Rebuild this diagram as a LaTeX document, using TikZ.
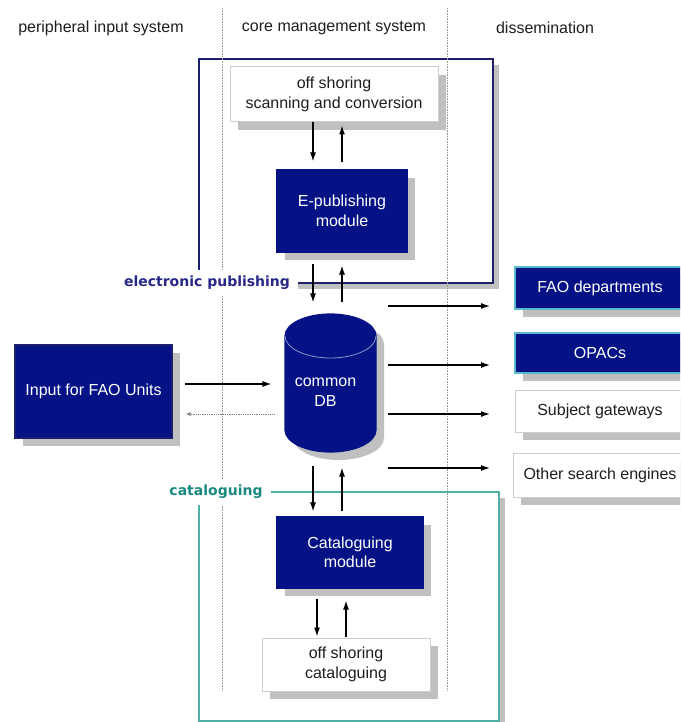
\documentclass[tikz,border=0pt]{standalone}
\usepackage{fontspec}
\setmainfont{Liberation Sans}
\newfontfamily\grpfont{DejaVu Sans}
\usetikzlibrary{arrows.meta,shadows}

\definecolor{navy}{RGB}{4,18,134}
\definecolor{navyline}{RGB}{30,30,110}
\definecolor{grpblue}{RGB}{40,40,135}
\definecolor{grpteal}{RGB}{24,138,130}
\definecolor{tealline}{RGB}{80,176,168}
\definecolor{shadowgray}{RGB}{192,192,192}
\definecolor{boxedge}{RGB}{205,205,205}
\definecolor{cyanedge}{RGB}{90,185,205}
\definecolor{txt}{RGB}{30,30,30}

\tikzset{
	every node/.style={font=\fontsize{16}{19.5}\selectfont, text=txt, inner sep=0pt, align=center},
	bigshadow/.style={drop shadow={shadow xshift=8pt, shadow yshift=-8pt, fill=shadowgray, opacity=1}},
	smallshadow/.style={drop shadow={shadow xshift=6pt, shadow yshift=-6pt, fill=shadowgray, opacity=1}},
	darkbox/.style={fill=navy, draw=navy, text=white, bigshadow},
	rightbox/.style={fill=navy, draw=cyanedge, line width=1.2pt, text=white, bigshadow},
	lightbox/.style={fill=white, draw=boxedge, line width=1pt, bigshadow},
	grplabel/.style={font=\grpfont\bfseries\fontsize{14}{16}\selectfont, fill=white, inner xsep=8pt, inner ysep=6pt},
	sepline/.style={densely dotted, gray!80, line width=0.6pt},
}

\begin{document}
\begin{tikzpicture}[x=1pt, y=-1pt, >={Latex[length=9pt, width=6pt]}, line width=1.2pt]
		\useasboundingbox (0,0) rectangle (680,722);
		\clip (0,0) rectangle (680,722);
		
		\draw[navyline, line width=1.4pt, fill=white, smallshadow] (199,59) rectangle (493,283);
		\draw[tealline, line width=1.4pt, fill=white, smallshadow] (199,492) rectangle (499,721);
		
		\draw[sepline] (222,8) -- (222,690);
		\draw[sepline] (447,8) -- (447,690);
		
		\node (hperiph) at (101,28) {peripheral input system};
		\node (hcore) at (334,28) {core management system};
		\node (hdiss) at (545,28) {dissemination};
		
		\node[grplabel, text=grpblue] (epubgrp) at (207,283) {electronic publishing};
		\node[grplabel, text=grpteal] (catgrp) at (216,492) {cataloguing};
		
		\node[lightbox, minimum width=208pt, minimum height=55pt] (off1) at (334,94.5) {off shoring\\scanning and conversion};
		\node[darkbox, minimum width=130pt, minimum height=82pt] (epub) at (342,211) {E-publishing\\module};
		
		% database drum
		\draw[navy, fill=navy, bigshadow] (285,336) -- (285,430)
			arc[start angle=180, end angle=0, x radius=45.5, y radius=22] -- (376,336)
			arc[start angle=0, end angle=-180, x radius=45.5, y radius=22] -- cycle;
		\draw[white!55!navy, line width=0.8pt] (285,336) arc[start angle=180, end angle=0, x radius=45.5, y radius=22];
		\node[minimum width=91pt, minimum height=138pt, label={[text=white, xshift=-5pt, yshift=-9pt]center:common\\DB}] (db) at (330.5,383) {};
		
		\node[darkbox, draw=navyline, minimum width=157pt, minimum height=93pt] (input) at (93.5,391.5) {Input for FAO Units};
		\node[darkbox, minimum width=146pt, minimum height=71pt] (catmod) at (350,552.5) {Cataloguing\\module};
		\node[lightbox, minimum width=168pt, minimum height=53pt] (off2) at (346,664.5) {off shoring\\cataloguing};
		
		\node[rightbox, minimum width=170pt, minimum height=42pt] (fao) at (600,288) {FAO departments};
		\node[rightbox, minimum width=170pt, minimum height=40pt] (opac) at (600,353) {OPACs};
		\node[lightbox, minimum width=170pt, minimum height=42pt] (subj) at (600,411) {Subject gateways};
		\node[lightbox, minimum width=174pt, minimum height=44pt] (other) at (600,475) {Other search engines};
		
		\coordinate (la) at (313,0);
		\coordinate (lb) at (342,0);
		\coordinate (lc) at (317,0);
		\coordinate (ld) at (346,0);
		\coordinate (inl) at (0,384);
		\coordinate (outl) at (0,414);
		\coordinate (t1) at (490,306);
		\coordinate (t2) at (490,365);
		\coordinate (t3) at (490,414);
		\coordinate (t4) at (490,468);
		
		\draw[->, shorten >=8pt] (off1.south -| la) -- (epub.north -| la);
		\draw[->, shorten <=7pt, shorten >=3pt] (epub.north -| lb) -- (off1.south -| lb);
		\draw[->, shorten <=11pt, shorten >=11pt] (epub.south -| la) -- (db.north -| la);
		\draw[->, shorten <=11pt, shorten >=13pt] (db.north -| lb) -- (epub.south -| lb);
		\draw[->, shorten <=13pt, shorten >=5pt] (db.south -| la) -- (catmod.north -| la);
		\draw[->, shorten <=5pt, shorten >=15pt] (catmod.north -| lb) -- (db.south -| lb);
		\draw[->, shorten <=10pt, shorten >=1pt] (catmod.south -| lc) -- (off2.north -| lc);
		\draw[->, shorten <=1pt, shorten >=12pt] (off2.north -| ld) -- (catmod.south -| ld);
		
		\draw[->, shorten <=12pt, shorten >=13pt] (input.east |- inl) -- (db.west |- inl);
		\draw[-{Latex[length=5pt, width=4pt]}, gray, line width=0.8pt, densely dotted, shorten <=10pt, shorten >=13pt] (db.west |- outl) -- (input.east |- outl);
		
		\draw[->, shorten <=11pt] (db.east |- t1) -- (t1);
		\draw[->, shorten <=11pt] (db.east |- t2) -- (t2);
		\draw[->, shorten <=11pt] (db.east |- t3) -- (t3);
		\draw[->, shorten <=11pt] (db.east |- t4) -- (t4);
	\end{tikzpicture}
\end{document}
